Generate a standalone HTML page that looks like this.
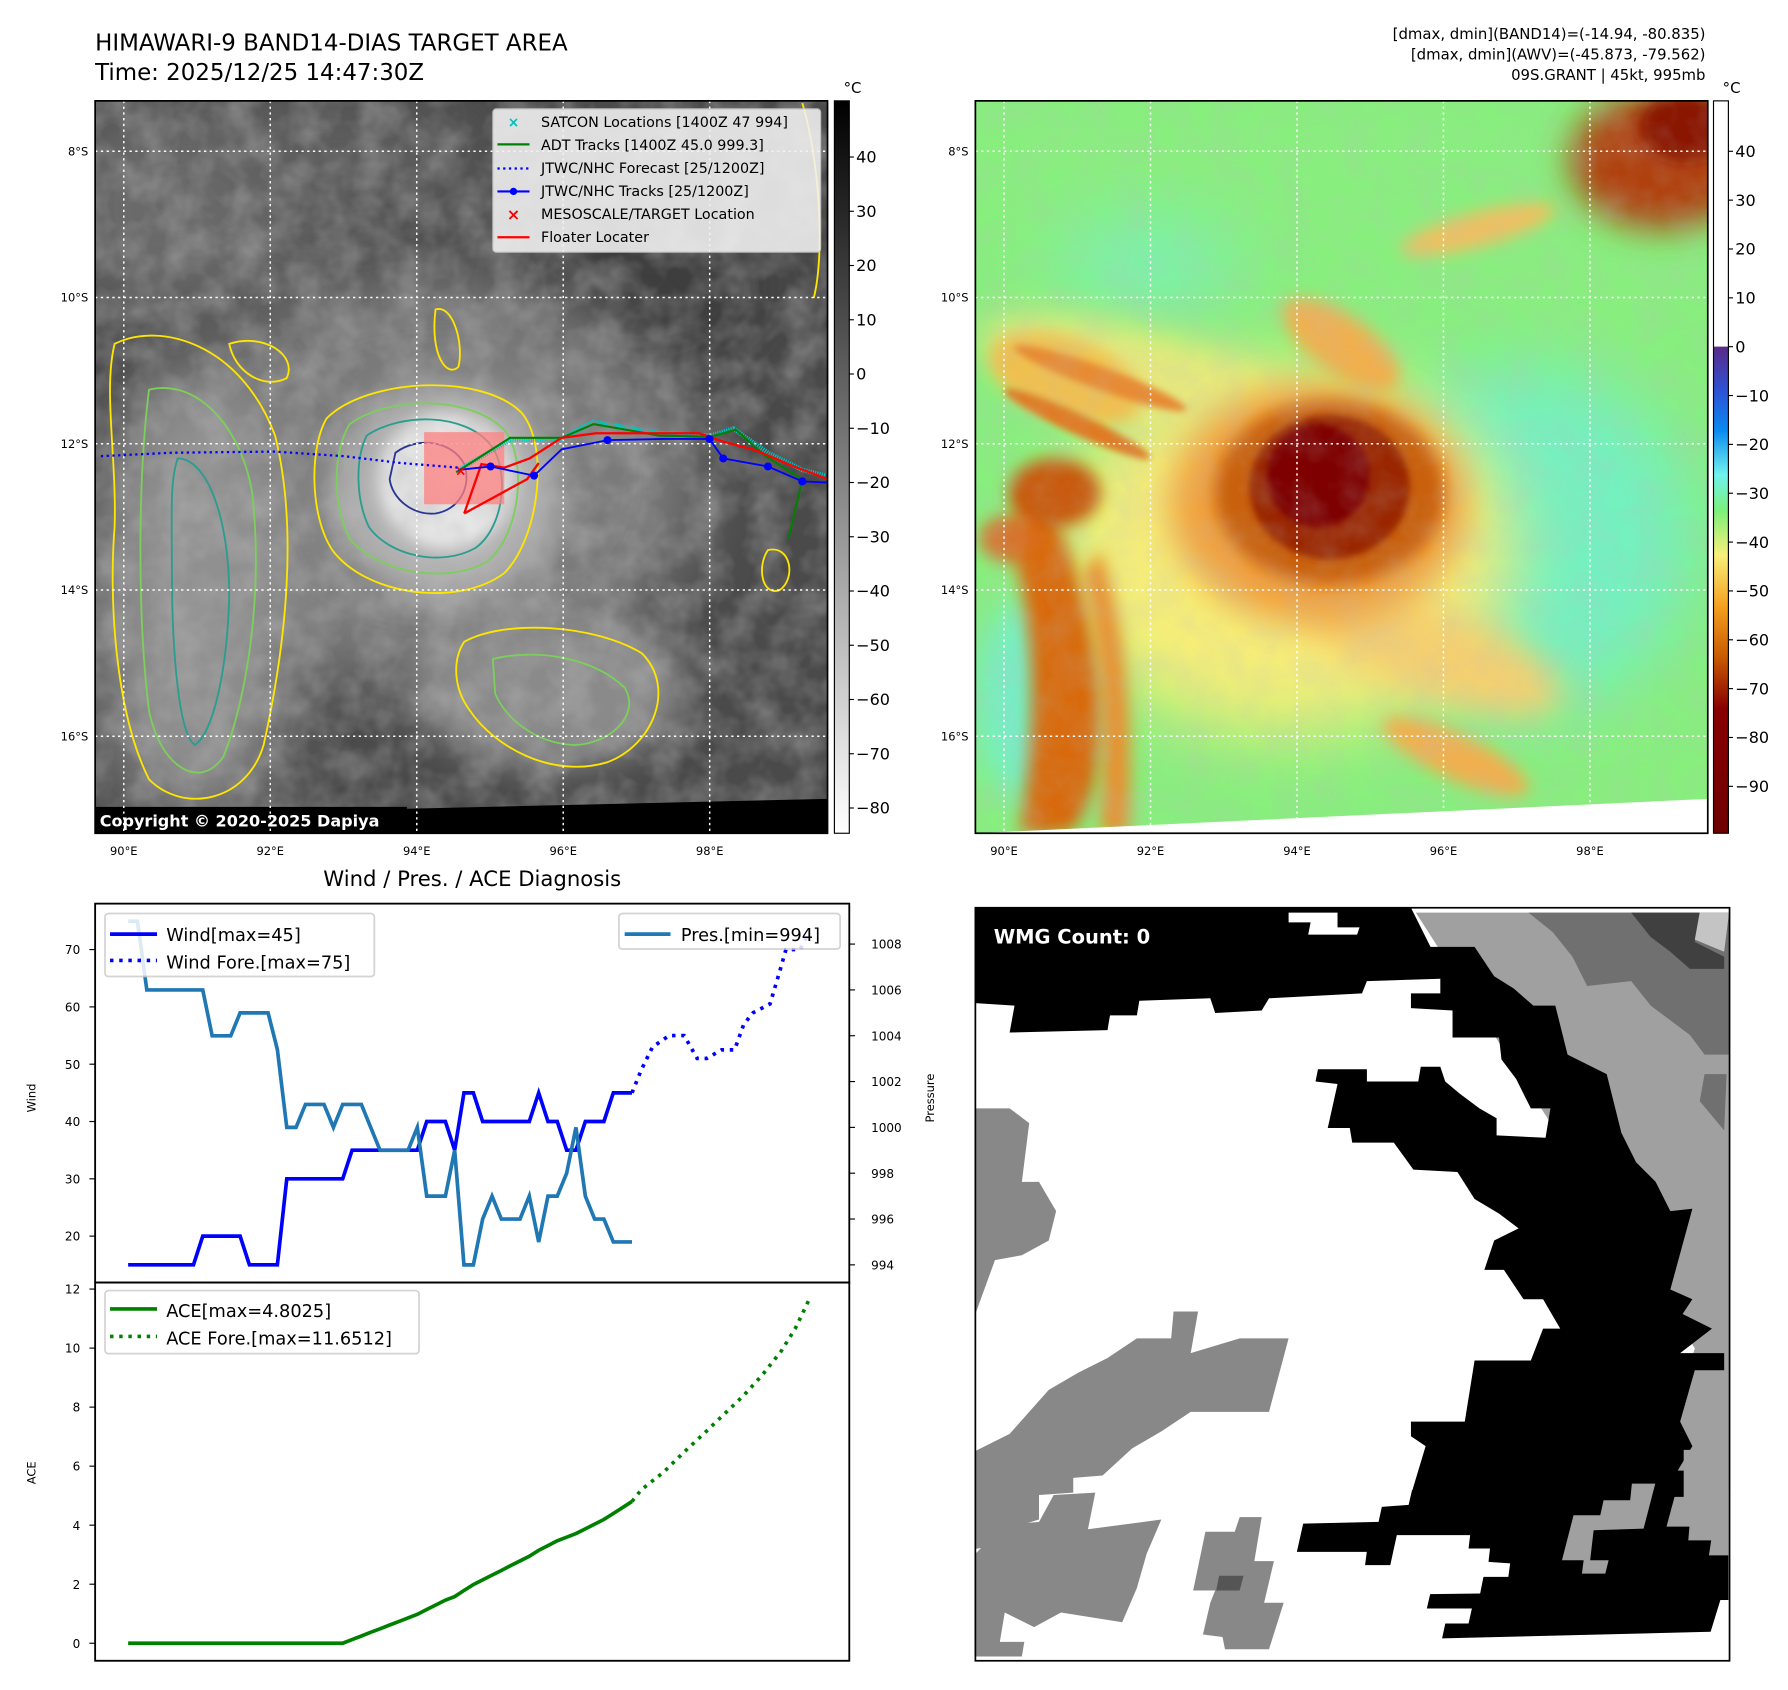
<!DOCTYPE html>
<html><head><meta charset="utf-8"><title>HIMAWARI-9 BAND14 DIAS</title>
<style>
html,body{margin:0;padding:0;background:#fff;}
svg{display:block;font-family:"DejaVu Sans","Liberation Sans",sans-serif;}
</style></head>
<body>
<svg id="root" width="1788" height="1690" viewBox="0 0 1560 1474.5" xmlns="http://www.w3.org/2000/svg">
<defs>
  <filter id="b30" x="-50%" y="-50%" width="200%" height="200%"><feGaussianBlur stdDeviation="30"/></filter>
  <filter id="b15" x="-50%" y="-50%" width="200%" height="200%"><feGaussianBlur stdDeviation="15"/></filter>
  <filter id="b7" x="-50%" y="-50%" width="200%" height="200%"><feGaussianBlur stdDeviation="7"/></filter>
  <filter id="b3" x="-50%" y="-50%" width="200%" height="200%"><feGaussianBlur stdDeviation="3"/></filter>
  <filter id="noise" x="0" y="0" width="100%" height="100%">
    <feTurbulence type="fractalNoise" baseFrequency="0.035" numOctaves="3" seed="4"/>
    <feColorMatrix type="matrix" values="0 0 0 0 0.5  0 0 0 0 0.5  0 0 0 0 0.5  0 0 0 1.4 -0.45"/>
  </filter>
  <clipPath id="clipL"><rect x="83" y="88" width="639" height="639"/></clipPath>
  <clipPath id="clipR"><rect x="851" y="88" width="639" height="639"/></clipPath>
  <linearGradient id="grayBar" x1="0" y1="0" x2="0" y2="1">
    <stop offset="0" stop-color="#000"/><stop offset="1" stop-color="#fff"/>
  </linearGradient>
  <linearGradient id="colorBar" x1="0" y1="0" x2="0" y2="1">
    <stop offset="0" stop-color="#fff"/>
    <stop offset="0.335" stop-color="#fff"/>
    <stop offset="0.336" stop-color="#5a2a8a"/>
    <stop offset="0.40" stop-color="#2a56d8"/>
    <stop offset="0.45" stop-color="#0a8af0"/>
    <stop offset="0.51" stop-color="#70f3ee"/>
    <stop offset="0.56" stop-color="#7cf07a"/>
    <stop offset="0.62" stop-color="#f8f07a"/>
    <stop offset="0.69" stop-color="#f5a020"/>
    <stop offset="0.76" stop-color="#c85a00"/>
    <stop offset="0.83" stop-color="#880000"/>
    <stop offset="1" stop-color="#6e0000"/>
  </linearGradient>
</defs>

<text x="83" y="44" font-size="20">HIMAWARI-9 BAND14-DIAS TARGET AREA</text>
<text x="83" y="70" font-size="20">Time: 2025/12/25 14:47:30Z</text>
<text x="1488" y="34" font-size="13" text-anchor="end">[dmax, dmin](BAND14)=(-14.94, -80.835)</text>
<text x="1488" y="52" font-size="13" text-anchor="end">[dmax, dmin](AWV)=(-45.873, -79.562)</text>
<text x="1488" y="70" font-size="13" text-anchor="end">09S.GRANT | 45kt, 995mb</text>

<!-- LEFT MAP -->
<g clip-path="url(#clipL)">
  <rect x="83" y="88" width="639" height="639" fill="#4a4a4a"/>
  <ellipse cx="160" cy="180" rx="120" ry="90" fill="#6a6a6a" filter="url(#b30)"/>
  <ellipse cx="300" cy="140" rx="120" ry="50" fill="#5e5e5e" filter="url(#b30)"/>
  <ellipse cx="560" cy="250" rx="120" ry="80" fill="#3c3c3c" filter="url(#b30)"/>
  <ellipse cx="380" cy="420" rx="230" ry="180" fill="#7a7a7a" filter="url(#b30)"/>
  <ellipse cx="170" cy="520" rx="90" ry="200" fill="#909090" filter="url(#b30)"/>
  <ellipse cx="480" cy="600" rx="120" ry="70" fill="#8a8a8a" filter="url(#b15)"/>
  <ellipse cx="390" cy="430" rx="100" ry="95" fill="#b0b0b0" filter="url(#b15)"/>
  <ellipse cx="390" cy="420" rx="60" ry="60" fill="#e6e6e6" filter="url(#b7)"/>
  <rect x="83" y="88" width="639" height="639" filter="url(#noise)" opacity="0.55"/>
  <g fill="none" stroke-width="1.6">
    <path d="M285,365 C320,330 420,325 455,360 C480,390 470,470 440,500 C400,530 320,520 290,480 C270,450 270,390 285,365Z" stroke="#ffe600"/>
    <path d="M305,370 C340,345 410,345 440,375 C460,400 455,465 425,490 C390,510 330,500 305,470 C290,440 290,395 305,370Z" stroke="#7ccf5a"/>
    <path d="M320,380 C350,360 405,360 428,388 C445,410 440,460 415,478 C385,495 340,485 322,460 C310,435 310,400 320,380Z" stroke="#2a9d8f"/>
    <path d="M345,395 C365,380 395,385 405,405 C412,425 400,445 380,448 C360,450 342,435 340,418 Z" stroke="#283593"/>
    <path d="M100,300 C140,280 210,300 240,380 C260,460 250,560 230,650 C215,700 160,710 130,680 C100,620 95,520 100,460 C102,400 90,340 100,300Z" stroke="#ffe600"/>
    <path d="M130,340 C170,330 210,370 220,430 C230,520 215,610 195,660 C175,690 140,670 130,620 C120,540 120,420 130,340Z" stroke="#7ccf5a"/>
    <path d="M155,400 C180,400 200,450 200,520 C198,590 185,640 170,650 C155,640 150,560 150,500 C150,450 148,420 155,400Z" stroke="#2a9d8f"/>
    <path d="M405,560 C440,540 520,545 560,570 C590,600 570,650 530,665 C480,680 430,650 410,620 C395,600 395,575 405,560Z" stroke="#ffe600"/>
    <path d="M430,575 C470,565 520,575 545,600 C560,625 530,650 500,650 C465,648 440,625 432,605Z" stroke="#7ccf5a"/>
    <path d="M700,90 C715,140 720,220 710,260" stroke="#ffe600"/>
    <path d="M670,480 C690,475 695,505 680,515 C665,520 660,495 670,480Z" stroke="#ffe600"/>
    <path d="M380,270 C395,265 405,300 400,320 C390,330 375,310 380,270Z" stroke="#ffe600"/>
    <path d="M200,300 C230,290 260,310 250,330 C230,340 205,325 200,300Z" stroke="#ffe600"/>
  </g>
  <polygon points="83,712 722,697 722,727 83,727" fill="#000"/>
  <rect x="83" y="704" width="272" height="23" fill="#000"/>
  <g id="gridL" stroke="#fff" stroke-width="1.3" stroke-dasharray="2,3"></g>
  <rect x="370" y="377" width="70" height="63" fill="#ff8080" opacity="0.75"/>
  <polyline points="88,398 150,395 240,394 300,398 350,404 400,408" fill="none" stroke="#0000ff" stroke-width="2" stroke-dasharray="2,3"/>
  <polyline points="400,410 445,384 490,383 518,368 575,378 620,380 640,374 670,395 700,410 720,415" fill="none" stroke="#00c8c8" stroke-width="4" stroke-dasharray="1,1"/>
  <polyline points="398,412 445,382 490,382 518,370 575,380 620,381 642,375 668,398 690,412 700,418 688,470" fill="none" stroke="#008000" stroke-width="1.8"/>
  <polyline points="405,448 420,405 440,408 462,400 490,382 520,378 570,378 610,378 630,385 660,393 690,406 722,418" fill="none" stroke="#ff0000" stroke-width="2"/>
  <polyline points="405,448 460,418 470,404" fill="none" stroke="#ff0000" stroke-width="2"/>
  <polyline points="400,410 428,407 466,415 490,392 530,384 580,383 619,383 631,400 670,407 700,420 722,421" fill="none" stroke="#0000ff" stroke-width="1.6"/>
  <g fill="#0000ff">
    <circle cx="428" cy="407" r="3.5"/><circle cx="466" cy="415" r="3.5"/><circle cx="530" cy="384" r="3.5"/><circle cx="619" cy="383" r="3.5"/><circle cx="631" cy="400" r="3.5"/><circle cx="670" cy="407" r="3.5"/><circle cx="700" cy="420" r="3.5"/>
  </g>
  <text x="402" y="415" font-size="12" fill="#ff0000" font-weight="bold" text-anchor="middle">×</text>
</g>
<rect x="83" y="88" width="639" height="639" fill="none" stroke="#000" stroke-width="1.5"/>
<text x="87" y="721" font-size="14" font-weight="bold" fill="#fff">Copyright © 2020-2025 Dapiya</text>

<g>
  <rect x="430" y="95" width="286" height="125" rx="3" fill="#f2f2f2" opacity="0.88" stroke="#ccc"/>
  <text x="448" y="111" font-size="12" fill="#00c0c0" font-weight="bold" text-anchor="middle">×</text>
  <line x1="434" y1="126" x2="462" y2="126" stroke="#008000" stroke-width="2"/>
  <line x1="434" y1="147" x2="462" y2="147" stroke="#0000ff" stroke-width="2" stroke-dasharray="2,3"/>
  <line x1="434" y1="167" x2="462" y2="167" stroke="#0000ff" stroke-width="1.8"/><circle cx="448" cy="167" r="3.2" fill="#0000ff"/>
  <text x="448" y="192" font-size="14" fill="#ff0000" font-weight="bold" text-anchor="middle">×</text>
  <line x1="434" y1="207" x2="462" y2="207" stroke="#ff0000" stroke-width="2"/>
  <g font-size="12.5" fill="#000">
    <text x="472" y="111">SATCON Locations [1400Z 47 994]</text>
    <text x="472" y="131">ADT Tracks [1400Z 45.0 999.3]</text>
    <text x="472" y="151">JTWC/NHC Forecast [25/1200Z]</text>
    <text x="472" y="171">JTWC/NHC Tracks [25/1200Z]</text>
    <text x="472" y="191">MESOSCALE/TARGET Location</text>
    <text x="472" y="211">Floater Locater</text>
  </g>
</g>

<rect x="728" y="88" width="13" height="639" fill="url(#grayBar)" stroke="#000" stroke-width="1"/>
<text x="736" y="81" font-size="13">°C</text>
<g id="cbL"></g>

<!-- RIGHT MAP -->
<g clip-path="url(#clipR)">
  <rect x="851" y="88" width="639" height="639" fill="#88ef7e"/>
  <ellipse cx="1330" cy="470" rx="150" ry="150" fill="#74f0c0" filter="url(#b30)"/>
  <ellipse cx="900" cy="610" rx="50" ry="90" fill="#76efc6" filter="url(#b15)"/>
  <ellipse cx="1000" cy="230" rx="80" ry="40" fill="#7df0b0" filter="url(#b30)"/>
  <ellipse cx="1120" cy="480" rx="200" ry="160" fill="#f6ee78" filter="url(#b30)"/>
  <ellipse cx="1000" cy="330" rx="150" ry="40" fill="#e8ea7a" filter="url(#b15)" transform="rotate(15 1000 330)"/>
  <ellipse cx="1250" cy="570" rx="120" ry="40" fill="#f5d070" filter="url(#b15)" transform="rotate(20 1250 570)"/>
  <ellipse cx="1170" cy="300" rx="60" ry="25" fill="#f0b050" filter="url(#b7)" transform="rotate(35 1170 300)"/>
  <ellipse cx="1290" cy="200" rx="70" ry="15" fill="#f0c060" filter="url(#b7)" transform="rotate(-15 1290 200)"/>
  <ellipse cx="930" cy="330" rx="70" ry="35" fill="#f0c050" filter="url(#b7)" transform="rotate(20 930 330)"/>
  <path d="M900,420 C930,460 950,520 960,600 C965,660 950,720 930,727 L890,727 C900,660 910,560 880,470 Z" fill="#d86a10" filter="url(#b7)"/>
  <path d="M960,480 C980,540 990,620 985,727 L960,727 C965,640 960,560 945,500 Z" fill="#e89030" filter="url(#b7)"/>
  <ellipse cx="920" cy="430" rx="40" ry="30" fill="#c85a10" filter="url(#b7)"/>
  <ellipse cx="880" cy="470" rx="25" ry="20" fill="#d87020" filter="url(#b7)"/>
  <ellipse cx="960" cy="330" rx="80" ry="10" fill="#e88a30" filter="url(#b3)" transform="rotate(20 960 330)"/>
  <ellipse cx="940" cy="370" rx="70" ry="9" fill="#e07a20" filter="url(#b3)" transform="rotate(25 940 370)"/>
  <ellipse cx="1150" cy="440" rx="130" ry="105" fill="#f0a040" filter="url(#b15)"/>
  <ellipse cx="1160" cy="430" rx="100" ry="80" fill="#c86010" filter="url(#b7)"/>
  <ellipse cx="1160" cy="425" rx="70" ry="63" fill="#9a2800" filter="url(#b3)"/>
  <ellipse cx="1150" cy="415" rx="45" ry="45" fill="#7e0000" filter="url(#b3)"/>
  <ellipse cx="1450" cy="140" rx="80" ry="60" fill="#b04008" filter="url(#b15)"/>
  <ellipse cx="1470" cy="110" rx="40" ry="30" fill="#8a1800" filter="url(#b7)"/>
  <ellipse cx="1270" cy="660" rx="70" ry="20" fill="#f0b050" filter="url(#b7)" transform="rotate(25 1270 660)"/>
  <rect x="851" y="88" width="639" height="639" filter="url(#noise)" opacity="0.25"/>
  <polygon points="851,727 1490,697 1490,727" fill="#fff"/>
  <g id="gridR" stroke="#fff" stroke-width="1.3" stroke-dasharray="2,3"></g>
</g>
<rect x="851" y="88" width="639" height="639" fill="none" stroke="#000" stroke-width="1.5"/>
<rect x="1495" y="88" width="13" height="639" fill="url(#colorBar)" stroke="#000" stroke-width="1"/>
<text x="1503" y="81" font-size="13">°C</text>
<g id="cbR"></g>

<!-- WMG panel -->
<g>
  <rect x="851" y="792" width="658" height="657" fill="#fff"/>
  <g transform="translate(851,792) scale(0.427)">
    <polygon fill="#a0a0a0" points="900,10 1540,10 1540,1340 1210,1340 1290,1200 1440,1000 1470,900"/>
    <polygon fill="#707070" points="1130,10 1540,10 1540,300 1490,300 1460,260 1380,200 1340,150 1250,160 1220,100 1180,50"/>
    <polygon fill="#404040" points="1340,10 1480,10 1470,70 1530,100 1530,125 1460,125 1420,90 1380,60"/>
    <polygon fill="#c4c4c4" points="1480,10 1540,10 1530,90 1470,65"/>
    <polygon fill="#707070" points="1490,340 1535,340 1530,455 1480,395"/>
    <polygon fill="#000" points="0,0 890,0 930,80 1020,80 1060,140 1100,165 1140,200 1185,200 1210,300 1290,340 1320,460 1350,520 1390,560 1420,620 1465,615 1420,780 1465,800 1445,830 1505,860 1440,910 1530,910 1530,945 1470,945 1440,1050 1465,1100 1435,1150 1510,1150 1430,1220 1355,1190 1300,1225 1260,1290 1210,1340 1540,1340 1530,1490 960,1500 970,1470 1025,1440 930,1440 935,1410 1040,1380 1100,1350 1060,1330 1000,1290 870,1295 855,1355 805,1355 810,1330 660,1330 680,1270 860,1240 890,1200 920,1100 890,1080 890,1050 1000,1050 1020,925 1135,925 1160,860 1195,860 1160,800 1120,800 1080,740 1040,740 1060,680 1110,655 1070,625 1020,595 985,540 895,535 855,480 770,480 765,450 720,450 740,360 695,355 700,330 800,330 800,355 905,355 910,325 950,325 960,355 990,380 1030,410 1065,430 1065,465 1165,470 1175,410 1135,410 1105,350 1075,310 1070,265 975,265 975,210 890,205 890,175 950,175 950,145 800,150 790,175 600,185 585,210 490,215 480,185 335,190 330,220 275,220 270,250 70,255 80,200 0,195"/>
    <polygon fill="#fff" points="640,10 740,10 740,40 785,40 780,55 680,55 685,30 640,30"/>
    <polygon fill="#888" points="0,410 70,410 110,440 95,560 130,560 165,620 150,680 95,710 40,720 0,830"/>
    <polygon fill="#888" points="0,1110 70,1075 150,985 210,950 270,920 330,880 400,880 405,825 455,825 440,910 540,880 640,880 600,1030 440,1030 380,1070 320,1105 260,1160 200,1165 200,1195 130,1200 130,1250 80,1265 70,1300 0,1310"/>
    <polygon fill="#888" points="0,1320 60,1260 130,1255 160,1200 245,1195 230,1270 380,1250 350,1320 330,1390 300,1460 175,1440 120,1470 60,1440 50,1500 100,1500 95,1530 0,1530"/>
    <polygon fill="#888" points="470,1275 530,1275 540,1245 585,1245 570,1335 610,1335 590,1420 630,1420 600,1515 510,1515 505,1490 465,1485 480,1420 490,1395 445,1395"/>
    <polygon fill="#555" points="498,1365 548,1365 540,1395 492,1395"/>
  </g>
  <!-- bottom-right region redrawn in page coords -->
  <rect x="1125" y="1300" width="384" height="148" fill="#fff"/>
  <polygon fill="#000" points="1232,1300 1229,1313 1205.6,1314.7 1202.8,1327.8 1137,1329.3 1131.5,1354 1192.5,1354 1191,1365.6 1213,1365.6 1218.7,1339.4 1282.7,1339.4 1281.3,1351 1300,1351 1298.7,1362.7 1317.6,1364 1316,1375.8 1294.3,1375.8 1291.4,1390.3 1247.8,1390.9 1244.9,1403.4 1284.2,1403.4 1281.3,1416.5 1261,1416.5 1258.2,1429.5 1492.5,1423.7 1501,1396 1508,1396 1508,1300"/>
  <polygon fill="#a0a0a0" points="1372.9,1322 1396.2,1322 1399.1,1308.9 1422.3,1308.9 1423.8,1294.4 1444.2,1294.4 1434,1333.7 1390.4,1335.1 1387.4,1361.3 1403.5,1361.3 1400.6,1373 1380.2,1373 1381.7,1361.3 1362.8,1361.3"/>
  <polygon fill="#a0a0a0" points="1469,1265 1508,1265 1508,1357 1491,1357 1493,1344 1473,1344 1474,1332 1454,1332 1461,1306 1469,1306"/>
  <text x="867" y="823" font-size="17" font-weight="bold" fill="#fff">WMG Count: 0</text>
  <rect x="851" y="792" width="658" height="657" fill="none" stroke="#000" stroke-width="1.5"/>
</g>

<text x="412" y="773" font-size="18.5" text-anchor="middle">Wind / Pres. / ACE Diagnosis</text>
<g id="charts"></g>

<script>
// ---- Chart data ----
const windObs = [15,15,15,15,15,15,15,15,20,20,20,20,20,15,15,15,15,30,30,30,30,30,30,30,35,35,35,35,35,35,35,35,40,40,40,35,45,45,40,40,40,40,40,40,45,40,40,35,35,40,40,40,45,45,45];
const windForeIdx = [54,55,56.2,58,59.6,61,62,63.6,65,66,67,68.8,69.8,70.5,72,73];
const windFore = [45,49,53,55,55,51,51,52.5,52.5,57,59,60.5,66,70,70,73];
const presObs = [1009,1009,1006,1006,1006,1006,1006,1006,1006,1004,1004,1004,1005,1005,1005,1005,1003.4,1000,1000,1001,1001,1001,1000,1001,1001,1001,1000,999,999,999,999,1000,997,997,997,999,994,994,996,997,996,996,996,997,995,997,997,998,1000,997,996,996,995,995,995];
const aceObs = [0,0,0,0,0,0,0,0,0,0,0,0,0,0,0,0,0,0,0,0,0,0,0,0,0.1225,0.245,0.3675,0.49,0.6125,0.735,0.8575,0.98,1.14,1.30,1.46,1.5825,1.785,1.9875,2.1475,2.3075,2.4675,2.6275,2.7875,2.9475,3.15,3.31,3.47,3.5925,3.715,3.875,4.035,4.195,4.3975,4.6,4.8025];
const aceForeIdx = [54,55,57.4,59.5,61.7,64,66,68,70,71.5,73];
const aceFore = [4.8025,5.2,5.8,6.45,7.1,7.8,8.4,9.1,9.9,10.66,11.65];
const windTicks = [20,30,40,50,60,70];
const presTicks = [994,996,998,1000,1002,1004,1006,1008];
const aceTicks = [0,2,4,6,8,10,12];
const grayTicks = [40,30,20,10,0,-10,-20,-30,-40,-50,-60,-70,-80];
const colorTicks = [40,30,20,10,0,-10,-20,-30,-40,-50,-60,-70,-80,-90];
const lonTicks = [90,92,94,96,98];
const latTicks = [8,10,12,14,16];

const NS = "http://www.w3.org/2000/svg";
function mk(tag, attrs, parent){const e=document.createElementNS(NS,tag);for(const k in attrs)e.setAttribute(k,attrs[k]);parent.appendChild(e);return e;}

const xIdx = i => 111.8 + i*8.14;
const yWind = v => 828.5 - (v-70)*5.0;
const yPres = p => 823.7 + (1008-p)*19.99;
const yAce = a => 1433.7 - a*25.75;
const lonX = (lon, x0) => x0 + (lon-90)*63.9;
const latY = lat => 132 + (lat-8)*63.8;
const grayY = v => 137 + (40-v)*4.733;
const colorY = v => 132 + (40-v)*4.262;

[["gridL",108],["gridR",876]].forEach(([id,x0])=>{
  const g=document.getElementById(id);
  lonTicks.forEach(lon=>{const l=mk("line",{x1:lonX(lon,x0),x2:lonX(lon,x0),y1:88,y2:727},g);
    
    });
  latTicks.forEach(lat=>{const l=mk("line",{x1:x0-25,x2:x0+620,y1:latY(lat),y2:latY(lat)},g);
    
    });
});
const root=document.getElementById("root");
[[108,77],[876,845]].forEach(([x0,lx])=>{
  lonTicks.forEach(lon=>{const t=mk("text",{x:lonX(lon,x0),y:746,"font-size":10,"text-anchor":"middle"},root);t.textContent=lon+"°E";
    
    });
  latTicks.forEach(lat=>{const t=mk("text",{x:lx,y:latY(lat)+3.5,"font-size":10,"text-anchor":"end"},root);t.textContent=lat+"°S";
    
    });
});
const cbL=document.getElementById("cbL");
grayTicks.forEach(v=>{mk("line",{x1:741,x2:745,y1:grayY(v),y2:grayY(v),stroke:"#000"},cbL);
  const t=mk("text",{x:747,y:grayY(v)+5,"font-size":14},cbL);t.textContent=v<0?"\u2212"+(-v):v;
  
  });
const cbR=document.getElementById("cbR");
colorTicks.forEach(v=>{mk("line",{x1:1508,x2:1512,y1:colorY(v),y2:colorY(v),stroke:"#000"},cbR);
  const t=mk("text",{x:1514,y:colorY(v)+5,"font-size":14},cbR);t.textContent=v<0?"\u2212"+(-v):v;
  
  });

const ch=document.getElementById("charts");
function poly(xs, ys, attrs, name){
  const pts=xs.map((x,i)=>x.toFixed(1)+","+ys[i].toFixed(1)).join(" ");
  const p=mk("polyline",Object.assign({points:pts,fill:"none"},attrs),ch);
  
  
  return p;
}
const idx = windObs.map((_,i)=>i);
poly(idx.map(xIdx), windObs.map(yWind), {stroke:"#0000ff","stroke-width":3.2}, 'wind-line');
poly(windForeIdx.map(xIdx), windFore.map(yWind), {stroke:"#0000ff","stroke-width":3.2,"stroke-dasharray":"3,5"}, 'wind-forecast-line');
poly(presObs.map((_,i)=>xIdx(i)), presObs.map(yPres), {stroke:"#1f77b4","stroke-width":3.2}, 'pressure-line');
poly(aceObs.map((_,i)=>xIdx(i)), aceObs.map(yAce), {stroke:"#008000","stroke-width":3.2}, 'ace-line');
poly(aceForeIdx.map(xIdx), aceFore.map(yAce), {stroke:"#008000","stroke-width":3.2,"stroke-dasharray":"3,5"}, 'ace-forecast-line');

const f1=mk("rect",{x:83,y:788.4,width:658,height:330.6,fill:"none",stroke:"#000","stroke-width":1.6},ch);


const f2=mk("rect",{x:83,y:1119,width:658,height:330,fill:"none",stroke:"#000","stroke-width":1.6},ch);



windTicks.forEach(v=>{mk("line",{x1:78,x2:83,y1:yWind(v),y2:yWind(v),stroke:"#000"},ch);
  const t=mk("text",{x:70,y:yWind(v)+4,"font-size":10.5,"text-anchor":"end"},ch);t.textContent=v;
  
  });
presTicks.forEach(v=>{mk("line",{x1:741,x2:746,y1:yPres(v),y2:yPres(v),stroke:"#000"},ch);
  const t=mk("text",{x:760,y:yPres(v)+4,"font-size":10.5},ch);t.textContent=v;
  
  });
aceTicks.forEach(v=>{mk("line",{x1:78,x2:83,y1:yAce(v),y2:yAce(v),stroke:"#000"},ch);
  const t=mk("text",{x:70,y:yAce(v)+4,"font-size":10.5,"text-anchor":"end"},ch);t.textContent=v;
  
  });
</script>

<text transform="translate(31,958) rotate(-90)" font-size="10" text-anchor="middle">Wind</text>
<text transform="translate(815,958) rotate(-90)" font-size="10" text-anchor="middle">Pressure</text>
<text transform="translate(31,1285) rotate(-90)" font-size="10" text-anchor="middle">ACE</text>

<g>
  <rect x="91.6" y="797" width="235" height="55" rx="3" fill="#fff" opacity="0.85" stroke="#ccc" stroke-width="1.5"/>
  <line x1="96" y1="815" x2="137" y2="815" stroke="#0000ff" stroke-width="3.2"/>
  <line x1="96" y1="838" x2="137" y2="838" stroke="#0000ff" stroke-width="3.2" stroke-dasharray="3,5"/>
  <text x="145" y="821" font-size="15.5">Wind[max=45]</text>
  <text x="145" y="845" font-size="15.5">Wind Fore.[max=75]</text>
</g>
<g>
  <rect x="540" y="797" width="193" height="31" rx="3" fill="#fff" opacity="0.85" stroke="#ccc" stroke-width="1.5"/>
  <line x1="545" y1="815" x2="585" y2="815" stroke="#1f77b4" stroke-width="3.2"/>
  <text x="594" y="821" font-size="15.5">Pres.[min=994]</text>
</g>
<g>
  <rect x="91.6" y="1126" width="274" height="55" rx="3" fill="#fff" opacity="0.85" stroke="#ccc" stroke-width="1.5"/>
  <line x1="96" y1="1142" x2="137" y2="1142" stroke="#008000" stroke-width="3.2"/>
  <line x1="96" y1="1166" x2="137" y2="1166" stroke="#008000" stroke-width="3.2" stroke-dasharray="3,5"/>
  <text x="145" y="1149" font-size="15.5">ACE[max=4.8025]</text>
  <text x="145" y="1173" font-size="15.5">ACE Fore.[max=11.6512]</text>
</g>
</svg>
</body></html>
